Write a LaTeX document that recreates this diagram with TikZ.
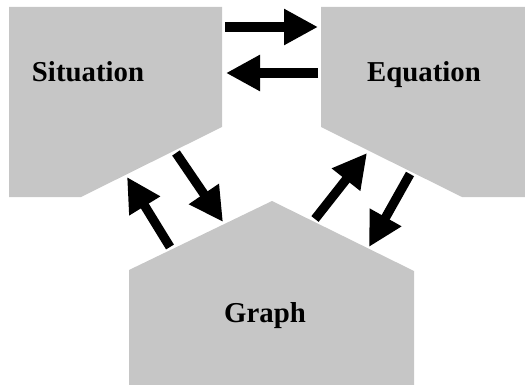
\documentclass[tikz,border=0pt]{standalone}
\usepackage{fontspec}
\setmainfont{Liberation Serif}
\usetikzlibrary{arrows.meta}
\definecolor{ink}{HTML}{000000}
\definecolor{panel}{HTML}{C6C6C6}
\tikzset{
  rpanel/.style = {fill=panel, draw=none},
  rlabel/.style = {font=\bfseries\fontsize{14.4}{17}\selectfont, text=ink, anchor=base, inner sep=0pt},
  rflow/.style  = {-{Triangle[length=17pt,width=17pt]}, draw=ink, line width=4.6pt},
}

\begin{document}
\begin{tikzpicture}[x=0.5pt, y=-0.5pt]
\useasboundingbox (0,0) rectangle (525,385);

% the three panels
\fill[rpanel] (9,7) -- (222,7) -- (222,127) -- (81,197) -- (9,197) -- cycle;
\fill[rpanel] (321,7) -- (525,7) -- (525,197) -- (462,197) -- (321,127) -- cycle;
\fill[rpanel] (129,270) -- (272,201) -- (414,271) -- (414,385) -- (129,385) -- cycle;

\node[rlabel] (sit) at (88,82)  {Situation};
\node[rlabel] (equ) at (424,82) {Equation};
\node[rlabel] (gra) at (265,322) {Graph};

% arrow ends
\coordinate (sitE1) at (225,27);
\coordinate (equW1) at (318,27);
\coordinate (equW2) at (318,73);
\coordinate (sitE2) at (226,73);
\coordinate (graL1) at (170,247);
\coordinate (sitS1) at (127,177);
\coordinate (sitS2) at (176,153);
\coordinate (graL2) at (223,222);
\coordinate (graR1) at (315,219);
\coordinate (equS1) at (367,153);
\coordinate (equS2) at (410,174);
\coordinate (graR2) at (369,247);

\draw[rflow] (sitE1) -- (equW1);
\draw[rflow] (equW2) -- (sitE2);
\draw[rflow] (graL1) -- (sitS1);
\draw[rflow] (sitS2) -- (graL2);
\draw[rflow] (graR1) -- (equS1);
\draw[rflow] (equS2) -- (graR2);
\end{tikzpicture}
\end{document}
